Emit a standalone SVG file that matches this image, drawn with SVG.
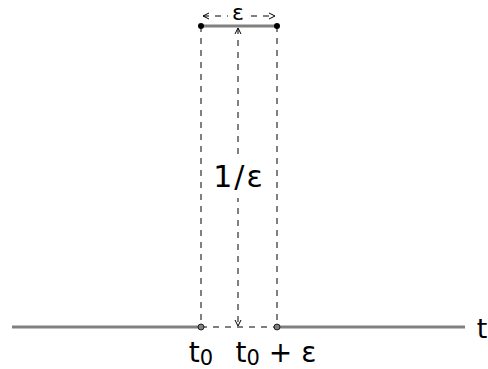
<svg xmlns="http://www.w3.org/2000/svg" width="488" height="369" viewBox="0 0 488 369">
<defs>
<style>
.axis{stroke:#808080;stroke-width:3;fill:none}
.dash{stroke:#000;stroke-width:1;stroke-dasharray:6,6;fill:none}
.lbl{font-family:"DejaVu Sans","Noto Sans",sans-serif;fill:#000}
</style>
<marker id="ah" viewBox="0 0 8 8" refX="7" refY="4" markerWidth="8" markerHeight="8" orient="auto-start-reverse" markerUnits="userSpaceOnUse">
<path d="M1,1 L7,4 L1,7" fill="none" stroke="#000" stroke-width="1"/>
</marker>
</defs>
<rect width="488" height="369" fill="#fff"/>
<g id="connectors">
<line class="axis" x1="12" y1="327" x2="201" y2="327"/>
<line class="axis" x1="277" y1="327" x2="465" y2="327"/>
<line class="axis" x1="201" y1="26" x2="277" y2="26"/>
<line class="dash" x1="201" y1="26" x2="201" y2="327"/>
<line class="dash" x1="277" y1="26" x2="277" y2="327"/>
<line class="dash" x1="201" y1="327" x2="277" y2="327"/>
<line class="dash" x1="238" y1="28" x2="238" y2="326" marker-start="url(#ah)" marker-end="url(#ah)"/>
<line class="dash" x1="203" y1="16" x2="275" y2="16" marker-start="url(#ah)" marker-end="url(#ah)"/>
</g>
<g id="points">
<circle cx="201" cy="26" r="3" fill="#000"/>
<circle cx="277" cy="26" r="3" fill="#000"/>
<circle cx="201" cy="327" r="3" fill="#808080" stroke="#000" stroke-width="0.8"/>
<circle cx="277" cy="327" r="3" fill="#808080" stroke="#000" stroke-width="0.8"/>
</g>
<g id="eps-label">
<rect x="228" y="4" width="21" height="20" fill="#fff"/>
<text class="lbl" x="238" y="20" font-size="22" text-anchor="middle">ε</text>
</g>
<g id="height-label">
<rect x="212" y="158" width="54" height="40" fill="#fff"/>
<text class="lbl" x="239" y="187" font-size="30" text-anchor="middle" letter-spacing="2">1/ε</text>
</g>
<g id="t-label"><text class="lbl" x="482" y="338" font-size="27" text-anchor="middle">t</text></g>
<g id="t0-label"><text class="lbl" x="201" y="362" font-size="28" text-anchor="middle">t<tspan font-size="21" dy="3">0</tspan></text></g>
<g id="t0eps-label"><text class="lbl" x="276" y="362" font-size="28" text-anchor="middle">t<tspan font-size="21" dy="3">0</tspan><tspan dy="-3"> + ε</tspan></text></g>
</svg>
